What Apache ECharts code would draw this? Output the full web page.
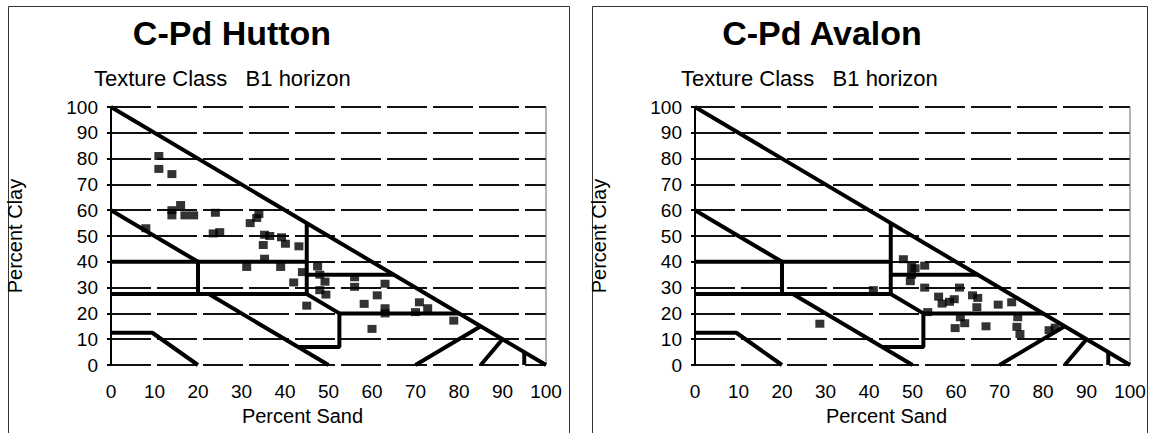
<!DOCTYPE html>
<html><head><meta charset="utf-8">
<script src="https://cdn.jsdelivr.net/npm/echarts@6/dist/echarts.min.js"></script>
<style>html,body{margin:0;padding:0;background:#fff;}#c{width:1150px;height:433px;}</style>
</head><body><div id="c"></div>
<script>
// ---- data ----
const panelTitles = ['C-Pd Hutton', 'C-Pd Avalon'];
const subTitle = 'Texture Class   B1 horizon';
const xName = 'Percent Sand';
const yName = 'Percent Clay';
const axisMin = 0, axisMax = 100, axisStep = 10;

// [percent sand, percent clay]
const hutton = [[11,81],[11,76],[14,74],[8,53],[14,60],[14,58],[16,62],[17,58],[19,58],[24,59],[23.5,51],[25,51.5],
  [32,55],[33.5,57],[34,58.5],[35.3,50.5],[35,46.5],[36.5,50],[39.2,49.5],[40.1,47],[43.2,46],[35.3,41.2],[31.2,38],
  [39,38],[42,32],[44,36],[45,23],[47.5,38.2],[48,35],[49.2,32.3],[49.4,27.3],[48,29],[56,34],[56,30.3],[63,31.5],
  [61.2,27],[58.2,23.7],[63,22],[63,20],[60,14],[70.9,24.3],[70,20.5],[72.8,22],[78.8,17.2]];
const avalon = [[47.9,41],[49.8,38],[50.6,37.5],[49.8,35],[49.5,32.5],[52.8,38.5],[52.8,30],[41,29],[28.7,16],
  [56,26.5],[56.8,23.8],[58.5,24.5],[59.6,25.5],[60.8,30],[63.8,27],[65,26],[64.8,22.4],[69.7,23.4],[72.8,24.3],
  [61,18.5],[59.8,14.3],[62,16.2],[66.9,15],[74.2,18.5],[74,14.8],[74.7,12],[81.4,13.5],[82.8,14.5],[53.5,20.5]];

// texture-class boundaries (sand, clay)
const boundaries = [
  [[0,100],[100,0]],
  [[0,60],[20,40],[20,27.5]],
  [[0,40],[45,40]],
  [[0,27.5],[45,27.5],[52.5,20],[52.5,7],[43,7]],
  [[22.5,27.5],[50,0]],
  [[45,27.5],[45,55]],
  [[45,35],[65,35]],
  [[52.5,20],[80,20]],
  [[0,12.5],[9.5,12.5],[20,0]],
  [[70,0],[85,15]],
  [[85,0],[90,10]],
  [[95,0],[95,5]]
];
const frameEdge = [[100,0],[100,100]];

// ---- chart ----
const FONT = '"Liberation Sans", Arial, sans-serif';
const grids = [{left:111, top:107, width:435, height:258}, {left:695, top:107, width:435, height:258}];
const titleX = [232, 822];
const subX = [94, 681];
const datasets = [hutton, avalon];

const xAxes = [], yAxes = [], series = [], graphics = [];
grids.forEach((g, i) => {
  xAxes.push({gridIndex:i, type:'value', min:axisMin, max:axisMax, interval:axisStep,
    axisLine:{show:false}, axisTick:{show:false}, splitLine:{show:false},
    axisLabel:{color:'#000', fontSize:19, fontFamily:FONT, margin:17},
    name:xName, nameLocation:'middle', nameGap:39,
    nameTextStyle:{color:'#000', fontSize:20, fontFamily:FONT, padding:[0,52,0,0]}});
  yAxes.push({gridIndex:i, type:'value', min:axisMin, max:axisMax, interval:axisStep,
    axisLine:{show:true, lineStyle:{color:'#000', width:2}},
    axisTick:{show:true, length:4, lineStyle:{color:'#000', width:2}},
    splitLine:{show:true, lineStyle:{color:'#111', width:2, type:[40,6]}},
    axisLabel:{color:'#000', fontSize:19, fontFamily:FONT, margin:13},
    name:yName, nameLocation:'middle', nameGap:86, nameRotate:90,
    nameTextStyle:{color:'#000', fontSize:20, fontFamily:FONT}});
  boundaries.forEach(b => series.push({type:'line', xAxisIndex:i, yAxisIndex:i, data:b, showSymbol:false,
    silent:true, lineStyle:{color:'#000', width:4}, z:3}));
  series.push({type:'line', xAxisIndex:i, yAxisIndex:i, data:frameEdge, showSymbol:false, silent:true,
    lineStyle:{color:'#666', width:1}, z:2});
  series.push({type:'scatter', xAxisIndex:i, yAxisIndex:i, data:datasets[i], symbol:'rect', symbolSize:[9,8],
    itemStyle:{color:'#000'}, z:5});
  graphics.push({type:'text', x:titleX[i], y:33, style:{text:panelTitles[i], textAlign:'center', textVerticalAlign:'middle',
    font:'bold 34px ' + FONT, fill:'#000'}});
  graphics.push({type:'text', x:subX[i], y:78, style:{text:subTitle, textAlign:'left', textVerticalAlign:'middle',
    font:'22px ' + FONT, fill:'#000'}});
});
graphics.push({type:'rect', shape:{x:8.5, y:6.5, width:561, height:440}, style:{fill:'none', stroke:'#333', lineWidth:1}});
graphics.push({type:'rect', shape:{x:592.5, y:6.5, width:555, height:440}, style:{fill:'none', stroke:'#333', lineWidth:1}});

const chart = echarts.init(document.getElementById('c'), null, {renderer:'svg'});
chart.setOption({animation:false, backgroundColor:'#fff', grid:grids, xAxis:xAxes, yAxis:yAxes, series:series, graphic:graphics});
</script></body></html>
